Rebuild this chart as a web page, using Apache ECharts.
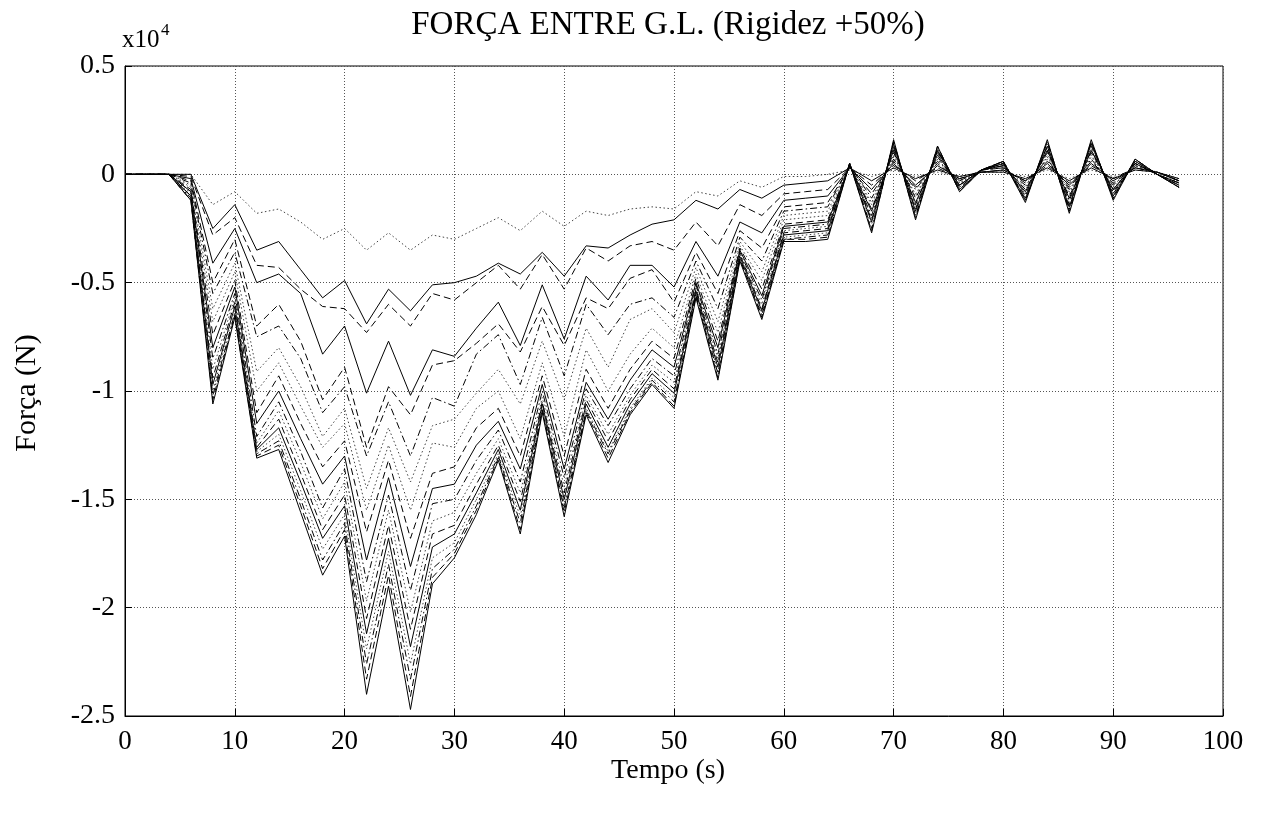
<!DOCTYPE html>
<html>
<head>
<meta charset="utf-8">
<script src="https://cdn.jsdelivr.net/npm/echarts@6/dist/echarts.min.js"></script>
<style>
html,body{margin:0;padding:0;background:#fff;}
#chart{width:1265px;height:818px;}
</style>
</head>
<body>
<div id="chart"></div>
<script>
// Time (s)
const tempo = [0,2,4,6,8,10,12,14,16,18,20,22,24,26,28,30,32,34,36,38,40,42,44,46,48,50,52,54,56,58,60,62,64,66,68,70,72,74,76,78,80,82,84,86,88,90,92,94,96];
// Force values in units of 1e4 N, one array per curve (top to bottom)
const s1 = [0,0,0,0,-0.14,-0.08,-0.18,-0.16,-0.22,-0.30,-0.25,-0.35,-0.27,-0.35,-0.28,-0.30,-0.25,-0.20,-0.26,-0.17,-0.24,-0.17,-0.19,-0.16,-0.15,-0.16,-0.08,-0.10,-0.03,-0.06,-0.01,-0.01,0.00,0.02,-0.01,0.02,-0.01,0.01,-0.01,0.01,0.01,-0.01,0.02,-0.02,0.02,-0.01,0.02,0.01,-0.02];
const s2 = [0,0,0,0,-0.25,-0.14,-0.35,-0.31,-0.44,-0.57,-0.49,-0.69,-0.53,-0.63,-0.51,-0.50,-0.47,-0.41,-0.46,-0.36,-0.47,-0.33,-0.34,-0.28,-0.23,-0.21,-0.12,-0.16,-0.07,-0.11,-0.05,-0.04,-0.03,0.03,-0.03,0.03,-0.02,0.02,-0.01,0.01,0.01,-0.02,0.03,-0.03,0.03,-0.02,0.02,0.01,-0.02];
const s3 = [0,0,0,-0.01,-0.28,-0.20,-0.42,-0.43,-0.53,-0.61,-0.62,-0.73,-0.60,-0.70,-0.55,-0.58,-0.50,-0.42,-0.53,-0.37,-0.53,-0.34,-0.40,-0.33,-0.31,-0.35,-0.22,-0.33,-0.14,-0.19,-0.09,-0.08,-0.07,0.03,-0.05,0.04,-0.03,0.03,-0.02,0.01,0.02,-0.03,0.04,-0.04,0.04,-0.02,0.03,0.01,-0.03];
const s4 = [0,0,0,-0.02,-0.41,-0.25,-0.50,-0.46,-0.55,-0.83,-0.70,-1.01,-0.77,-1.02,-0.81,-0.84,-0.71,-0.59,-0.79,-0.51,-0.76,-0.47,-0.58,-0.42,-0.42,-0.52,-0.31,-0.47,-0.22,-0.27,-0.12,-0.11,-0.10,0.03,-0.07,0.05,-0.05,0.04,-0.02,0.01,0.02,-0.03,0.05,-0.05,0.05,-0.03,0.03,0.01,-0.03];
const s5 = [0,0,0,-0.03,-0.50,-0.30,-0.70,-0.60,-0.77,-1.04,-0.89,-1.26,-0.98,-1.11,-0.88,-0.86,-0.78,-0.69,-0.82,-0.61,-0.79,-0.57,-0.62,-0.48,-0.44,-0.59,-0.36,-0.55,-0.26,-0.34,-0.15,-0.14,-0.13,0.03,-0.09,0.06,-0.06,0.05,-0.03,0.02,0.03,-0.04,0.06,-0.06,0.06,-0.04,0.03,0.01,-0.03];
const s6 = [0,0,0,-0.04,-0.55,-0.36,-0.75,-0.70,-0.85,-1.10,-0.98,-1.30,-1.05,-1.30,-1.03,-1.07,-0.83,-0.74,-0.97,-0.66,-0.93,-0.60,-0.74,-0.60,-0.57,-0.66,-0.40,-0.62,-0.29,-0.40,-0.17,-0.16,-0.15,0.04,-0.11,0.07,-0.07,0.06,-0.03,0.02,0.03,-0.05,0.07,-0.07,0.07,-0.05,0.04,0.01,-0.03];
const s7 = [0,0,0,-0.05,-0.62,-0.41,-0.91,-0.80,-0.98,-1.21,-1.08,-1.45,-1.17,-1.42,-1.16,-1.13,-1.01,-0.90,-1.06,-0.77,-1.04,-0.71,-0.89,-0.67,-0.62,-0.73,-0.43,-0.68,-0.31,-0.45,-0.19,-0.18,-0.17,0.04,-0.13,0.08,-0.09,0.07,-0.04,0.02,0.03,-0.06,0.08,-0.08,0.08,-0.05,0.04,0.01,-0.04];
const s8 = [0,0,0,-0.06,-0.68,-0.45,-1.00,-0.87,-1.07,-1.26,-1.15,-1.55,-1.25,-1.55,-1.24,-1.26,-1.08,-1.00,-1.22,-0.87,-1.21,-0.81,-1.00,-0.83,-0.71,-0.80,-0.46,-0.73,-0.33,-0.49,-0.21,-0.20,-0.19,0.04,-0.14,0.09,-0.10,0.07,-0.04,0.02,0.04,-0.07,0.09,-0.09,0.09,-0.06,0.04,0.00,-0.04];
const s9 = [0,0,0,-0.07,-0.74,-0.49,-1.10,-0.93,-1.15,-1.35,-1.23,-1.65,-1.32,-1.68,-1.38,-1.35,-1.17,-1.08,-1.30,-0.93,-1.30,-0.90,-1.08,-0.90,-0.77,-0.85,-0.48,-0.77,-0.34,-0.53,-0.23,-0.22,-0.21,0.04,-0.16,0.10,-0.11,0.08,-0.05,0.02,0.04,-0.07,0.10,-0.10,0.10,-0.07,0.05,0.00,-0.04];
const s10 = [0,0,0,-0.08,-0.80,-0.52,-1.15,-1.00,-1.22,-1.43,-1.30,-1.78,-1.40,-1.81,-1.45,-1.43,-1.25,-1.14,-1.36,-0.97,-1.36,-0.96,-1.13,-0.95,-0.81,-0.89,-0.50,-0.80,-0.35,-0.56,-0.24,-0.23,-0.22,0.04,-0.17,0.11,-0.13,0.09,-0.05,0.02,0.04,-0.08,0.11,-0.11,0.11,-0.07,0.05,0.00,-0.04];
const s11 = [0,0,0,-0.08,-0.85,-0.55,-1.21,-1.05,-1.28,-1.54,-1.36,-1.88,-1.48,-1.92,-1.52,-1.50,-1.32,-1.18,-1.42,-1.00,-1.40,-0.99,-1.16,-0.99,-0.85,-0.93,-0.51,-0.83,-0.36,-0.58,-0.25,-0.24,-0.23,0.04,-0.19,0.12,-0.14,0.10,-0.05,0.02,0.05,-0.09,0.11,-0.12,0.11,-0.08,0.05,0.00,-0.05];
const s12 = [0,0,0,-0.09,-0.90,-0.57,-1.24,-1.09,-1.33,-1.59,-1.42,-1.97,-1.55,-2.02,-1.60,-1.56,-1.38,-1.22,-1.47,-1.03,-1.44,-1.02,-1.20,-1.02,-0.88,-0.96,-0.52,-0.85,-0.37,-0.60,-0.26,-0.25,-0.24,0.05,-0.20,0.12,-0.15,0.10,-0.06,0.02,0.05,-0.09,0.12,-0.13,0.12,-0.09,0.06,0.00,-0.05];
const s13 = [0,0,0,-0.10,-0.94,-0.59,-1.26,-1.13,-1.38,-1.64,-1.48,-2.05,-1.62,-2.10,-1.66,-1.62,-1.43,-1.25,-1.51,-1.05,-1.47,-1.04,-1.23,-1.04,-0.90,-0.99,-0.53,-0.87,-0.37,-0.62,-0.27,-0.26,-0.25,0.05,-0.21,0.13,-0.16,0.11,-0.06,0.02,0.05,-0.10,0.13,-0.14,0.13,-0.09,0.06,0.00,-0.05];
const s14 = [0,0,0,-0.10,-0.97,-0.61,-1.27,-1.17,-1.42,-1.68,-1.53,-2.12,-1.68,-2.18,-1.72,-1.66,-1.47,-1.27,-1.55,-1.06,-1.50,-1.06,-1.26,-1.06,-0.92,-1.01,-0.54,-0.89,-0.38,-0.63,-0.28,-0.27,-0.26,0.05,-0.22,0.14,-0.17,0.11,-0.07,0.02,0.05,-0.11,0.13,-0.15,0.14,-0.10,0.06,0.00,-0.05];
const s15 = [0,0,0,-0.11,-1.00,-0.62,-1.28,-1.20,-1.46,-1.73,-1.57,-2.19,-1.74,-2.26,-1.77,-1.70,-1.50,-1.29,-1.58,-1.07,-1.52,-1.08,-1.28,-1.08,-0.94,-1.03,-0.55,-0.91,-0.38,-0.64,-0.29,-0.28,-0.27,0.05,-0.23,0.14,-0.18,0.12,-0.07,0.02,0.06,-0.11,0.14,-0.16,0.14,-0.10,0.06,0.00,-0.05];
const s16 = [0,0,0,-0.11,-1.02,-0.64,-1.29,-1.23,-1.50,-1.78,-1.61,-2.26,-1.80,-2.33,-1.82,-1.73,-1.53,-1.30,-1.61,-1.08,-1.54,-1.09,-1.29,-1.09,-0.95,-1.05,-0.55,-0.92,-0.39,-0.65,-0.30,-0.29,-0.28,0.05,-0.25,0.15,-0.19,0.12,-0.07,0.02,0.06,-0.12,0.15,-0.16,0.15,-0.11,0.07,0.00,-0.06];
const s17 = [0,0,0,-0.12,-1.04,-0.65,-1.30,-1.25,-1.53,-1.82,-1.64,-2.33,-1.85,-2.41,-1.86,-1.75,-1.55,-1.31,-1.64,-1.09,-1.56,-1.10,-1.31,-1.10,-0.96,-1.07,-0.56,-0.94,-0.39,-0.66,-0.30,-0.30,-0.29,0.05,-0.26,0.15,-0.20,0.13,-0.08,0.02,0.06,-0.12,0.15,-0.17,0.15,-0.11,0.07,0.00,-0.06];
const s18 = [0,0,0,-0.12,-1.06,-0.66,-1.31,-1.27,-1.56,-1.85,-1.67,-2.40,-1.90,-2.47,-1.89,-1.77,-1.57,-1.32,-1.66,-1.10,-1.58,-1.11,-1.33,-1.11,-0.97,-1.08,-0.57,-0.95,-0.40,-0.67,-0.31,-0.31,-0.30,0.05,-0.27,0.16,-0.21,0.13,-0.08,0.02,0.06,-0.13,0.16,-0.18,0.16,-0.12,0.07,0.00,-0.06];

const curves = [s1,s2,s3,s4,s5,s6,s7,s8,s9,s10,s11,s12,s13,s14,s15,s16,s17,s18];
const styles = ['dotted','solid','dashed','solid','dashed','dashdot','dotted','dotted','dashed','solid','dashdot','dotted','dashed','solid','dotted','dashdot','dashed','solid'];

const xTicks = [0,10,20,30,40,50,60,70,80,90,100];
const yTicks = [0.5,0,-0.5,-1,-1.5,-2,-2.5];

const titleText = 'FORÇA ENTRE G.L. (Rigidez +50%)';
const xName = 'Tempo (s)';
const yName = 'Força (N)';

const FONT = '"Liberation Serif","Times New Roman",serif';
const dashMap = {
  solid: 'solid',
  dashed: [7,4],
  dotted: [1.5,2.5],
  dashdot: [7,3,1.5,3]
};

const series = curves.map((c, i) => ({
  type: 'line',
  data: tempo.map((t, j) => [t, c[j]]),
  showSymbol: false,
  symbol: 'none',
  silent: true,
  lineStyle: {
    color: styles[i] === 'dotted' ? '#444' : '#000',
    width: 1,
    type: dashMap[styles[i]]
  },
  z: 3
}));

const chart = echarts.init(document.getElementById('chart'), null, {renderer: 'canvas'});
chart.setOption({
  animation: false,
  backgroundColor: '#fff',
  grid: {left: 125, right: 42, top: 66, bottom: 102, show: true, borderColor: '#000', borderWidth: 1, backgroundColor: 'transparent'},
  xAxis: {
    type: 'value', min: xTicks[0], max: xTicks[xTicks.length-1], interval: 10,
    axisLine: {show: true, onZero: false, lineStyle: {color: '#000', width: 1}},
    axisTick: {show: true, inside: true, length: 7, lineStyle: {color: '#000'}},
    axisLabel: {color: '#000', fontFamily: FONT, fontSize: 27, margin: 12},
    splitLine: {show: true, lineStyle: {color: '#555', width: 1, type: [1,2]}}
  },
  yAxis: {
    type: 'value', min: yTicks[yTicks.length-1], max: yTicks[0], interval: 0.5,
    axisLine: {show: true, onZero: false, lineStyle: {color: '#000', width: 1}},
    axisTick: {show: true, inside: true, length: 7, lineStyle: {color: '#000'}},
    axisLabel: {color: '#000', fontFamily: FONT, fontSize: 28, margin: 10,
      formatter: v => String(Math.round(v*10)/10)},
    splitLine: {show: true, lineStyle: {color: '#555', width: 1, type: [1,2]}}
  },
  graphic: [
    {type: 'text', x: 668, y: 25, style: {text: titleText, font: '33px ' + FONT, fill: '#000', textAlign: 'center', textVerticalAlign: 'middle'}},
    {type: 'text', x: 122, y: 40, style: {text: 'x10', font: '25px ' + FONT, fill: '#000', textAlign: 'left', textVerticalAlign: 'middle'}},
    {type: 'text', x: 161, y: 31, style: {text: '4', font: '17px ' + FONT, fill: '#000', textAlign: 'left', textVerticalAlign: 'middle'}},
    {type: 'text', x: 668, y: 771, style: {text: xName, font: '28px ' + FONT, fill: '#000', textAlign: 'center', textVerticalAlign: 'middle'}},
    {type: 'text', x: 27, y: 393, rotation: Math.PI/2, style: {text: yName, font: '30px ' + FONT, fill: '#000', textAlign: 'center', textVerticalAlign: 'middle'}}
  ],
  series: series
});
</script>
</body>
</html>
